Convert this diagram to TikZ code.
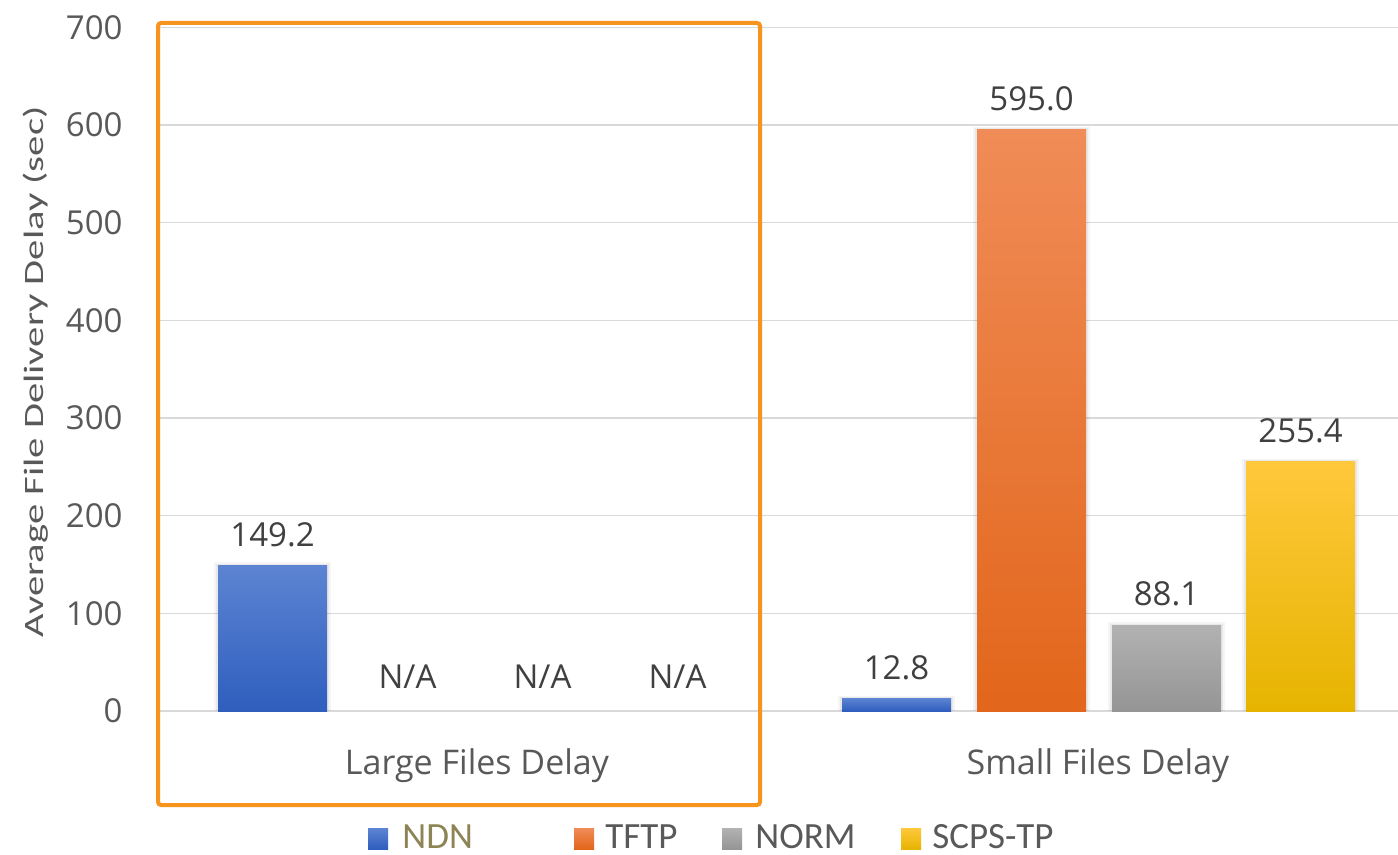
\documentclass[tikz,border=0pt]{standalone}
\usepackage{fontspec}
\newfontfamily\osans{Open Sans}
\newfontfamily\carl{Carlito}
\newfontfamily\carlw[FakeStretch=1.45]{Carlito}
\definecolor{gridc}{HTML}{D9D9D9}
\definecolor{txtc}{HTML}{595959}
\definecolor{valc}{HTML}{404040}
\definecolor{boxc}{HTML}{F7941D}
\definecolor{ndnc}{HTML}{8C8455}
\definecolor{blueT}{HTML}{5C84D2}
\definecolor{blueB}{HTML}{2F5EBE}
\definecolor{orT}{HTML}{F08C57}
\definecolor{orB}{HTML}{E2661B}
\definecolor{grT}{HTML}{B2B2B2}
\definecolor{grB}{HTML}{959595}
\definecolor{yeT}{HTML}{FFC83C}
\definecolor{yeB}{HTML}{E6B400}
\newcommand\mybar[6]{%
  \fill[black,opacity=0.04] (#1-4,#2-3) rectangle (#1+109+4,711);
  \fill[black,opacity=0.05] (#1-2,#2-1.5) rectangle (#1+109+2,711);
  \shade[top color=#3,bottom color=#4] (#1,#2) rectangle (#1+109,711);
  \node[vallab] (#6) at (#1+54.5,#2-31) {#5};
}
\tikzset{
  gridline/.style={draw=gridc,line width=0.8pt},
  ticklab/.style={font=\osans\fontsize{16.5}{18}\selectfont,text=txtc,anchor=east,inner sep=0},
  vallab/.style={font=\osans\fontsize{16.5}{18}\selectfont,text=valc,inner sep=0},
  catlab/.style={font=\osans\fontsize{17}{19}\selectfont,text=txtc,inner sep=0},
  leglab/.style={font=\carl\fontsize{18.5}{20}\selectfont,text=txtc,anchor=base west,inner sep=0,text depth=0pt},
}
\begin{document}
\begin{tikzpicture}[x=0.5pt,y=-0.5pt]
\useasboundingbox (0,0) rectangle (1398,855);
\fill[white] (0,0) rectangle (1398,855);
% gridlines and tick labels
\foreach \v in {0,100,...,700}{
  \pgfmathsetmacro\yy{711-\v*0.9767}
  \draw[gridline] (160,\yy) -- (1398,\yy);
  \node[ticklab] (t\v) at (123,\yy) {\v};
}
% y title
\node[font=\carlw\fontsize{14}{16}\selectfont,text=txtc,rotate=90,inner sep=0] (ytitle) at (36,372) {Average File Delivery Delay (sec)};
% bars
\mybar{218}{565.3}{blueT}{blueB}{149.2}{v1}
\node[vallab] (na1) at (407.5,677) {N/A};
\node[vallab] (na2) at (542.5,677) {N/A};
\node[vallab] (na3) at (677.5,677) {N/A};
\mybar{842}{698.5}{blueT}{blueB}{12.8}{v2}
\mybar{977}{129.9}{orT}{orB}{595.0}{v3}
\mybar{1112}{625}{grT}{grB}{88.1}{v4}
\mybar{1246}{461.6}{yeT}{yeB}{255.4}{v5}
% category labels
\node[catlab] (c1) at (477,766) {Large Files Delay};
\node[catlab] (c2) at (1098,766) {Small Files Delay};
% highlight box
\draw[boxc,line width=2pt,rounded corners=1.5pt] (158,23) rectangle (760,805);
% legend
\shade[top color=blueT,bottom color=blueB] (368,828) rectangle (388,849);
\node[leglab,text=ndnc] (l1) at (402,848.5) {NDN};
\shade[top color=orT,bottom color=orB] (574,828) rectangle (594,849);
\node[leglab] (l2) at (605,848.5) {TFTP};
\shade[top color=grT,bottom color=grB] (722,828) rectangle (742,849);
\node[leglab] (l3) at (755,848.5) {NORM};
\shade[top color=yeT,bottom color=yeB] (901,828) rectangle (921,849);
\node[leglab] (l4) at (932,848.5) {SCPS-TP};
\end{tikzpicture}
\end{document}
